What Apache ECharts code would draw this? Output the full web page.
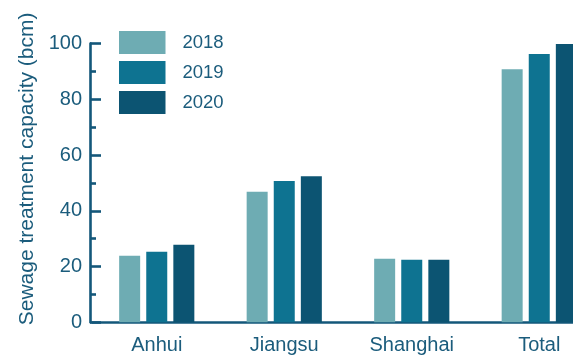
<!DOCTYPE html>
<html>
<head>
<meta charset="utf-8">
<script src="https://cdn.jsdelivr.net/npm/echarts@6/dist/echarts.min.js"></script>
<style>
  html, body { margin: 0; padding: 0; background: #ffffff; }
  #chart { width: 573px; height: 362px; }
</style>
</head>
<body>
<div id="chart"></div>
<script>
// Sewage treatment capacity by region, billion cubic metres
const regions = ['Anhui', 'Jiangsu', 'Shanghai', 'Total'];
const years = ['2018', '2019', '2020'];
const values2018 = [23.9, 46.8, 22.8, 90.8];
const values2019 = [25.3, 50.7, 22.4, 96.2];
const values2020 = [27.8, 52.4, 22.4, 99.8];
const yTicks = { min: 0, max: 100, interval: 20 };

const seriesValues = [values2018, values2019, values2020];
const colors = ['#6eacb3', '#0e7391', '#0c5472'];
const ink = '#1b5c7c';
const axisInk = '#13577a';
const font = '"Liberation Sans", Arial, Helvetica, sans-serif';

const chart = echarts.init(document.getElementById('chart'), null, { renderer: 'canvas' });

chart.setOption({
  animation: false,
  backgroundColor: '#ffffff',
  textStyle: { fontFamily: font },
  grid: {
    left: 93, top: 43.5, width: 510, bottom: 39.7,
    containLabel: false,
    outerBoundsMode: 'none'
  },
  legend: {
    data: years,
    orient: 'vertical',
    left: 119,
    top: 31,
    padding: 0,
    itemWidth: 46.5,
    itemHeight: 23,
    itemGap: 7,
    icon: 'rect',
    textStyle: { color: ink, fontSize: 18.5, fontFamily: font, padding: [0, 0, 0, 12] }
  },
  xAxis: {
    type: 'category',
    data: regions,
    axisLine: { lineStyle: { color: axisInk, width: 2.6, cap: 'square' } },
    axisTick: { show: false },
    axisLabel: { color: ink, fontSize: 20, fontFamily: font, margin: 13 }
  },
  yAxis: {
    type: 'value',
    min: yTicks.min,
    max: yTicks.max,
    interval: yTicks.interval,
    offset: 3,
    name: 'Sewage treatment capacity (bcm)',
    nameLocation: 'middle',
    nameGap: 50,
    nameTextStyle: { color: ink, fontSize: 21, fontFamily: font, padding: [0, 0, 0, 28] },
    axisLine: { show: true, lineStyle: { color: axisInk, width: 2.6 } },
    axisTick: { show: true, inside: true, length: 11, lineStyle: { color: axisInk, width: 2.6 } },
    minorTick: { show: true, splitNumber: 2, length: 6, lineStyle: { color: axisInk, width: 2.6 } },
    splitLine: { show: false },
    axisLabel: { color: ink, fontSize: 20, fontFamily: font, margin: 8 }
  },
  series: years.map((y, i) => ({
    name: y,
    type: 'bar',
    data: seriesValues[i],
    barWidth: 21,
    barGap: '29%',
    itemStyle: { color: colors[i] }
  }))
});
</script>
</body>
</html>
